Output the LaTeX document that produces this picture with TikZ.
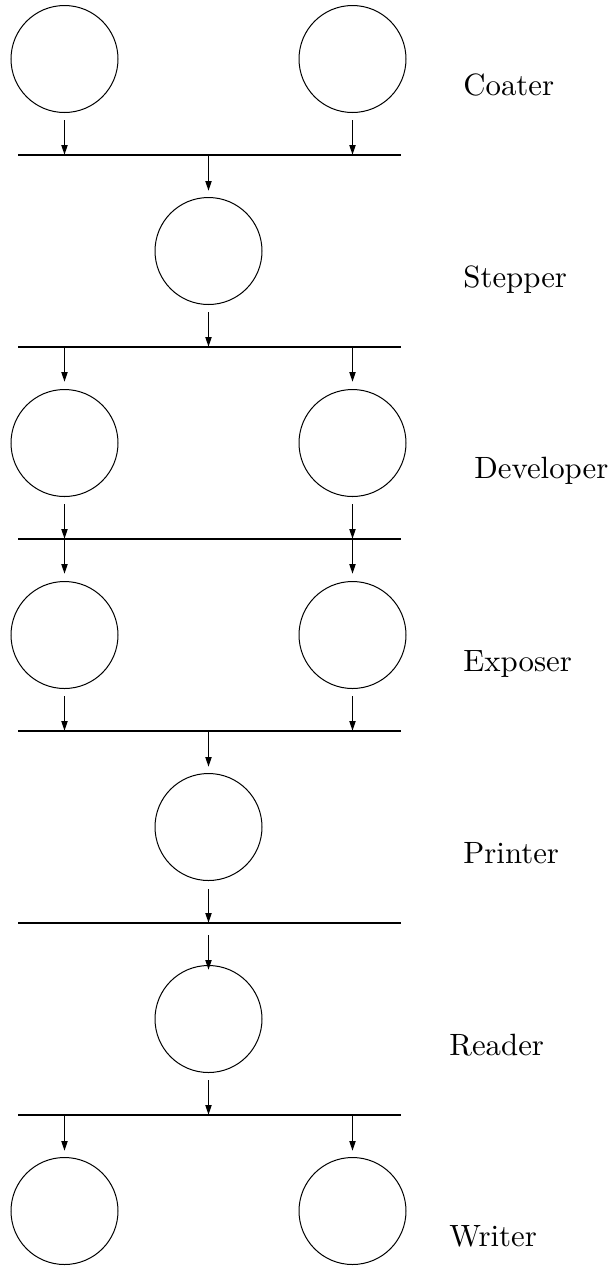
\documentclass[tikz,border=0pt]{standalone}
\usepackage{fontspec}
\setmainfont{lmroman10-regular}[Extension=.otf]
\usetikzlibrary{arrows.meta}
\begin{document}
\begin{tikzpicture}[x=0.5pt,y=-0.5pt,
  station/.style={circle,draw,line width=0.5pt,minimum size=53.5pt,inner sep=0pt},
  bar/.style={line width=1pt},
  flow/.style={line width=0.9pt,-{Triangle[length=5pt,width=3pt]}},
  tag/.style={anchor=base west,inner sep=0pt,font=\fontsize{15.4pt}{18pt}\selectfont}]
\useasboundingbox (0,0) rectangle (614,1266);

% stations
\node[station] (c1) at (64.5,59) {};
\node[station] (c2) at (352.5,59) {};
\node[station] (s)  at (208.5,251) {};
\node[station] (d1) at (64.5,443) {};
\node[station] (d2) at (352.5,443) {};
\node[station] (e1) at (64.5,635) {};
\node[station] (e2) at (352.5,635) {};
\node[station] (p)  at (208.5,827) {};
\node[station] (r)  at (208.5,1019) {};
\node[station] (w1) at (64.5,1211) {};
\node[station] (w2) at (352.5,1211) {};

% buses between the stages
\foreach \i/\y in {1/155,2/347,3/539,4/731,5/923,6/1115}{
  \coordinate (b\i l) at (18,\y);
  \coordinate (b\i r) at (401,\y);
  \draw[bar] (b\i l) -- (b\i r);
}

% Coater -> bus 1 -> Stepper
\draw[flow,shorten <=3.5pt] (c1.south) -- (c1.south |- b1l);
\draw[flow,shorten <=3.5pt] (c2.south) -- (c2.south |- b1l);
\draw[flow,shorten >=3pt] (s.north |- b1l) -- (s.north);
% Stepper -> bus 2 -> Developer
\draw[flow,shorten <=3.5pt] (s.south) -- (s.south |- b2l);
\draw[flow,shorten >=3.5pt] (d1.north |- b2l) -- (d1.north);
\draw[flow,shorten >=3.5pt] (d2.north |- b2l) -- (d2.north);
% Developer -> bus 3 -> Exposer
\draw[flow,shorten <=3.5pt] (d1.south) -- (d1.south |- b3l);
\draw[flow,shorten <=3.5pt] (d2.south) -- (d2.south |- b3l);
\draw[flow,shorten >=3.5pt] (e1.north |- b3l) -- (e1.north);
\draw[flow,shorten >=3.5pt] (e2.north |- b3l) -- (e2.north);
% Exposer -> bus 4 -> Printer
\draw[flow,shorten <=3.5pt] (e1.south) -- (e1.south |- b4l);
\draw[flow,shorten <=3.5pt] (e2.south) -- (e2.south |- b4l);
\draw[flow,shorten >=3pt] (p.north |- b4l) -- (p.north);
% Printer -> bus 5 -> Reader
\draw[flow,shorten <=4pt] (p.south) -- (p.south |- b5l);
\draw[flow,shorten <=6pt,shorten >=-2.5pt] (r.north |- b5l) -- (r.north);
% Reader -> bus 6 -> Writer
\draw[flow,shorten <=3.5pt] (r.south) -- (r.south |- b6l);
\draw[flow,shorten >=3pt] (w1.north |- b6l) -- (w1.north);
\draw[flow,shorten >=3pt] (w2.north |- b6l) -- (w2.north);

% stage names
\node[tag] (tc) at (463,95)   {Coater};
\node[tag] (ts) at (463,287)  {Stepper};
\node[tag] (td) at (474,478)  {Developer};
\node[tag] (te) at (463,671)  {Exposer};
\node[tag] (tp) at (463,863)  {Printer};
\node[tag] (tr) at (449,1055) {Reader};
\node[tag] (tw) at (449,1246) {Writer};
\end{tikzpicture}
\end{document}
